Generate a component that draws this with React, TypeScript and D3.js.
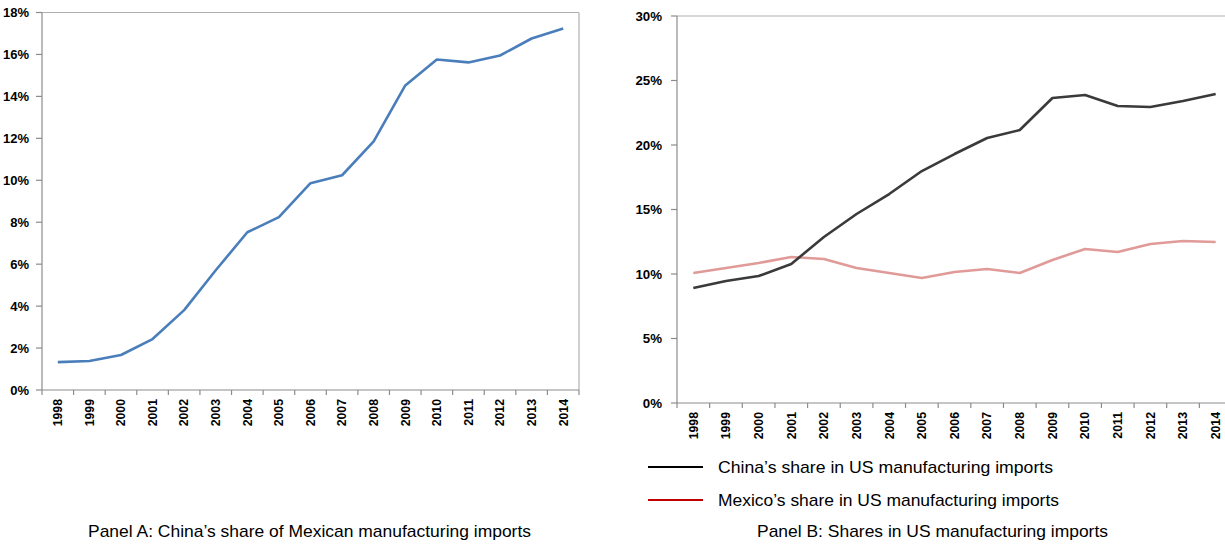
import React from "react";
import * as d3 from "d3";

const years = ["1998","1999","2000","2001","2002","2003","2004","2005","2006","2007","2008","2009","2010","2011","2012","2013","2014"];
const chinaShareMexico = [1.33,1.38,1.67,2.43,3.81,5.71,7.52,8.24,9.86,10.24,11.86,14.52,15.76,15.62,15.95,16.76,17.24];
const chinaShareUS = [8.91,9.46,9.84,10.78,12.87,14.65,16.2,17.98,19.3,20.54,21.16,23.64,23.88,23.02,22.95,23.41,23.95];
const mexicoShareUS = [10.08,10.47,10.85,11.32,11.16,10.47,10.08,9.69,10.16,10.39,10.08,11.09,11.94,11.71,12.33,12.56,12.48];
const ticksA = [0,2,4,6,8,10,12,14,16,18];
const ticksB = [0,5,10,15,20,25,30];
const legendLabels = ["China\u2019s share in US manufacturing imports","Mexico\u2019s share in US manufacturing imports"];
const titleA = "Panel A: China\u2019s share of Mexican manufacturing imports";
const titleB = "Panel B: Shares in US manufacturing imports";

const AXIS = "#8c8c8c";
const LBL = "Liberation Sans, Arial, sans-serif";

function Panel({x0, x1, y0, y1, yMax, ticks, series, topExtend, yFont, labelGap}: any) {
  const x = d3.scaleBand().domain(years).range([x0, x1]);
  const y = d3.scaleLinear().domain([0, yMax]).range([y1, y0]);
  const line = (vals: number[]) =>
    d3.line<number>().x((_, i) => (x(years[i]) as number) + x.bandwidth() / 2).y(v => y(v))(vals) as string;
  const bounds = years.map(yr => x(yr) as number).concat([x1]);
  return (
    <g>
      <line x1={x0} x2={x1 + topExtend} y1={y0} y2={y0} stroke="#b0b0b0" strokeWidth={1.2} />
      <line x1={x1} x2={x1} y1={y0} y2={y1} stroke="#b0b0b0" strokeWidth={1.2} />
      <line x1={x0} x2={x0} y1={y0} y2={y1} stroke={AXIS} strokeWidth={1.2} />
      <line x1={x0} x2={x1} y1={y1} y2={y1} stroke={AXIS} strokeWidth={1.2} />
      {ticks.map((t: number) => (
        <g key={t}>
          <line x1={x0 - 6} x2={x0} y1={y(t)} y2={y(t)} stroke={AXIS} strokeWidth={1.2} />
          <text x={x0 - labelGap} y={y(t)} dy="0.35em" textAnchor="end" fontFamily={LBL} fontWeight="bold" fontSize={yFont} fill="#000">{t}%</text>
        </g>
      ))}
      {bounds.map((b, i) => (
        <line key={i} x1={b} x2={b} y1={y1} y2={y1 + 5} stroke={AXIS} strokeWidth={1.2} />
      ))}
      {years.map(yr => {
        const cx = (x(yr) as number) + x.bandwidth() / 2;
        return (
          <text key={yr} transform={`translate(${cx},${y1 + 9}) rotate(-90)`} dy="0.35em" textAnchor="end" fontFamily={LBL} fontWeight="bold" fontSize={12.3} fill="#000">{yr}</text>
        );
      })}
      {series.map((s: any, i: number) => (
        <path key={i} d={line(s.values)} fill="none" stroke={s.color} strokeWidth={2.6} strokeLinejoin="round" />
      ))}
    </g>
  );
}

export default function App() {
  return (
    <svg width={1225} height={548} style={{ position: "absolute", left: 0, top: 0, background: "#fff" }}>
      <Panel x0={42} x1={579} y0={12.5} y1={390} yMax={18} ticks={ticksA} topExtend={0} yFont={13} labelGap={13}
        series={[{ values: chinaShareMexico, color: "#4a7ebb" }]} />
      <Panel x0={677} x1={1232} y0={16} y1={403} yMax={30} ticks={ticksB} topExtend={10} yFont={13.3} labelGap={15}
        series={[{ values: mexicoShareUS, color: "#e09a98" }, { values: chinaShareUS, color: "#3a3a3a" }]} />
      <line x1={648} x2={703} y1={467} y2={467} stroke="#000" strokeWidth={1.8} />
      <line x1={648} x2={703} y1={500} y2={500} stroke="#c00000" strokeWidth={1.8} />
      <text x={718} y={467} dy="0.35em" fontFamily={LBL} fontSize={17} textLength={335} lengthAdjust="spacingAndGlyphs" fill="#000">{legendLabels[0]}</text>
      <text x={718} y={500} dy="0.35em" fontFamily={LBL} fontSize={17} textLength={341} lengthAdjust="spacingAndGlyphs" fill="#000">{legendLabels[1]}</text>
      <text x={309.5} y={531} dy="0.35em" textAnchor="middle" fontFamily={LBL} fontSize={17} textLength={443} lengthAdjust="spacingAndGlyphs" fill="#000">{titleA}</text>
      <text x={932.5} y={531} dy="0.35em" textAnchor="middle" fontFamily={LBL} fontSize={17} textLength={351} lengthAdjust="spacingAndGlyphs" fill="#000">{titleB}</text>
    </svg>
  );
}
